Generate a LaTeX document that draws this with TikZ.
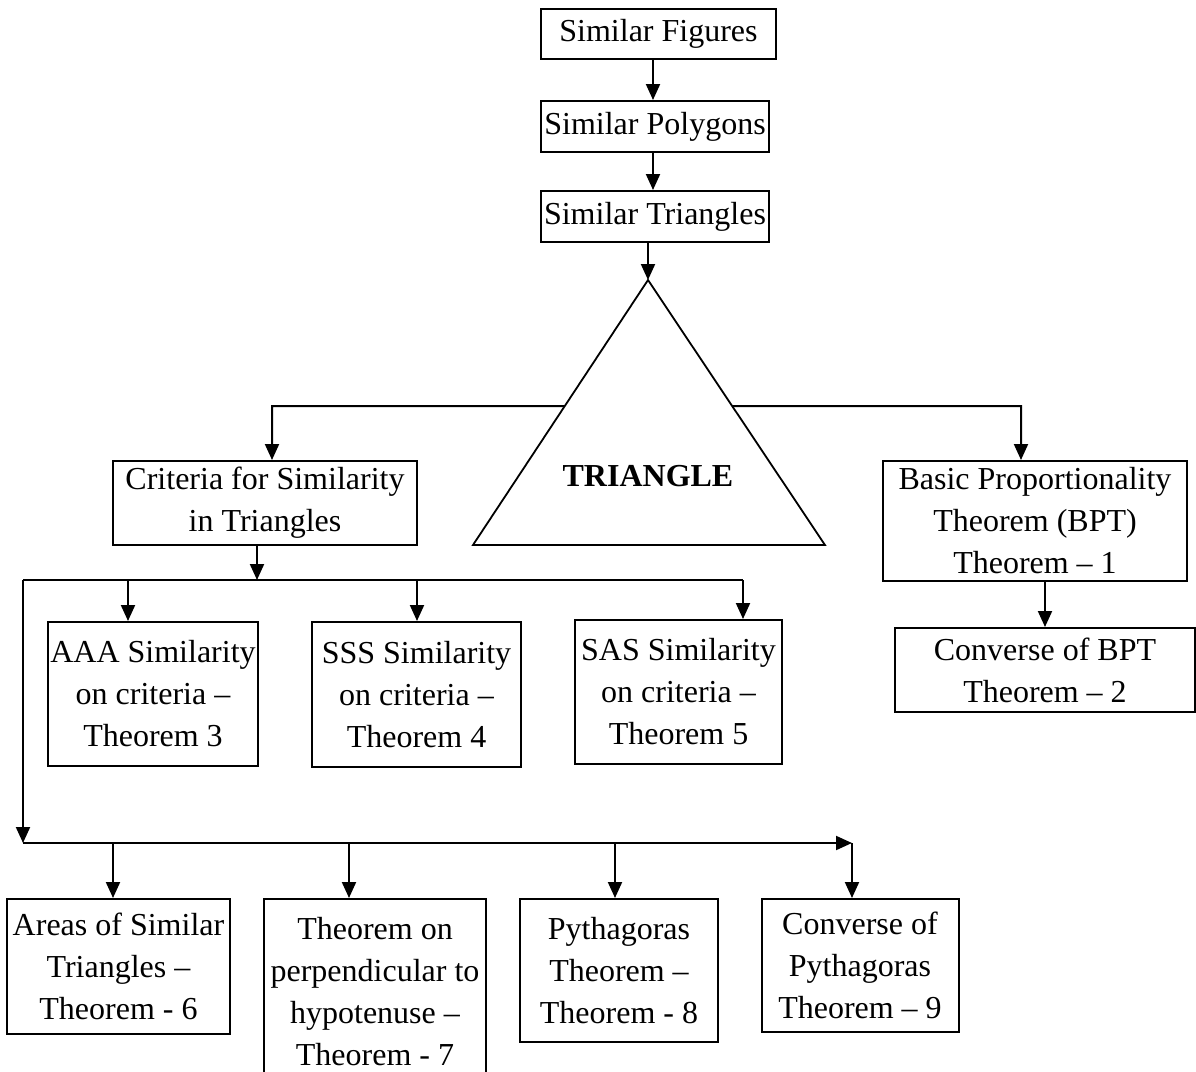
\documentclass[tikz,border=0pt]{standalone}
\usepackage{fontspec}
\setmainfont{Liberation Serif}
\usetikzlibrary{arrows.meta,calc}
\newcommand{\bodyfont}{\fontsize{16pt}{21pt}\selectfont}
\begin{document}
\begin{tikzpicture}[x=0.5pt,y=-0.5pt,
  box/.style={draw, line width=1pt, inner sep=0pt, align=center, font=\bodyfont},
  sz/.style 2 args={minimum width=#1*0.5pt, minimum height=#2*0.5pt},
  conn/.style={line width=1pt},
  arr/.style={line width=1pt, -{Triangle[length=8pt,width=7pt]}},
  tri/.style={line width=0.9pt, line join=miter}]
\useasboundingbox (0,0) rectangle (1196,1072);

% top chain
\node[box, sz={235}{50}] (fig) at (658.5,34) {Similar Figures};
\node[box, sz={228}{51}] (poly) at (655,126.5) {Similar Polygons};
\node[box, sz={228}{51}] (tris) at (655,216.5) {Similar Triangles};

% triangle
\coordinate (apex) at (648,280);
\coordinate (bl) at (473,545);
\coordinate (br) at (825,545);
\draw[tri] (apex) -- (bl) -- (br) -- cycle;
\node[font=\bodyfont\bfseries, inner sep=0pt] (trilabel) at (648,476) {TRIANGLE};

% second level
\node[box, sz={304}{84}] (crit) at (265,503) {Criteria for Similarity\\in Triangles};
\node[box, sz={304}{120}] (bpt) at (1035,521) {Basic Proportionality\\Theorem (BPT)\\Theorem – 1};
\node[box, sz={300}{84}] (cbpt) at (1045,670) {Converse of BPT\\Theorem – 2};

% third level
\node[box, sz={210}{144}] (aaa) at (153,694) {AAA Similarity\\on criteria –\\Theorem 3};
\node[box, sz={209}{145}] (sss) at (416.5,694.5) {SSS Similarity\\on criteria –\\Theorem 4};
\node[box, sz={207}{144}] (sas) at (678.5,692) {SAS Similarity\\on criteria –\\Theorem 5};

% bottom level
\node[box, sz={223}{135}] (area) at (118.5,966.5) {Areas of Similar\\Triangles –\\Theorem - 6};
\node[box, sz={222}{186}] (perp) at (375,992) {Theorem on\\perpendicular to\\hypotenuse –\\Theorem - 7};
\node[box, sz={198}{143}] (pyth) at (619,970.5) {Pythagoras\\Theorem –\\Theorem - 8};
\node[box, sz={197}{133}] (cpy) at (860,965.5) {Converse of\\Pythagoras\\Theorem – 9};

% helper coordinates
\coordinate (ax1) at (653,0);
\coordinate (sl) at ($(apex)!0.4755!(bl)$);
\coordinate (sr) at ($(apex)!0.4755!(br)$);
\coordinate (cL) at (272,406);
\coordinate (cR) at (1021,406);
\coordinate (x4) at (1045,0);
\coordinate (j1) at (257,580);
\coordinate (h1L) at (23,580);
\coordinate (h1R) at (743,580);
\coordinate (tA) at (128,580);
\coordinate (tS) at (417,580);
\coordinate (h2L) at (23,843);
\coordinate (h2R) at (852,843);
\coordinate (b1) at (113,843);
\coordinate (b2) at (349,843);
\coordinate (b3) at (615,843);

% connectors
\draw[arr] (fig.south -| ax1) -- (poly.north -| ax1);
\draw[arr] (poly.south -| ax1) -- (tris.north -| ax1);
\draw[arr] (tris.south -| apex) -- (apex);
\draw[arr] (sl) -- (cL) -- (crit.north -| cL);
\draw[arr] (sr) -- (cR) -- (bpt.north -| cR);
\draw[arr] (bpt.south -| x4) -- (cbpt.north -| x4);
\draw[arr] (crit.south -| j1) -- (j1);
\draw[conn] (h1L) -- (h1R);
\draw[arr] (tA) -- (aaa.north -| tA);
\draw[arr] (tS) -- (sss.north -| tS);
\draw[arr] (h1R) -- (sas.north -| h1R);
\draw[arr] (h1L) -- (h2L);
\draw[arr] (h2L) -- (h2R);
\draw[arr] (h2R) -- (cpy.north -| h2R);
\draw[arr] (b1) -- (area.north -| b1);
\draw[arr] (b2) -- (perp.north -| b2);
\draw[arr] (b3) -- (pyth.north -| b3);
\end{tikzpicture}
\end{document}
